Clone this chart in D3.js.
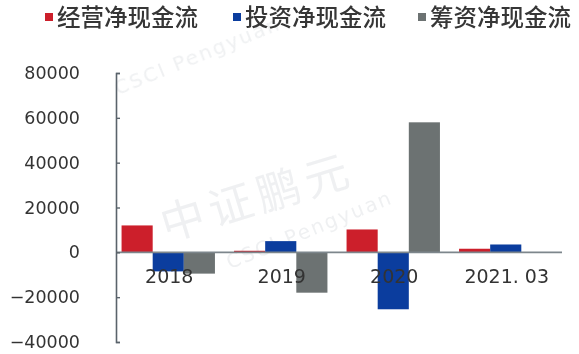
<!DOCTYPE html>
<html>
<head>
<meta charset="utf-8">
<script src="https://cdn.jsdelivr.net/npm/d3@7"></script>
<style>
  html, body { margin: 0; padding: 0; background: #ffffff; }
  svg { display: block; }
</style>
</head>
<body>
<svg id="chart" width="579" height="354"></svg>
<script>
// Cash flow components by period (unit: 万元)
const periods = ["2018", "2019", "2020", "2021. 03"];
const seriesNames = ["经营净现金流", "投资净现金流", "筹资净现金流"];
const operating = [12000, 700, 10200, 1600];
const investing = [-8500, 5000, -25400, 3500];
const financing = [-9500, -18000, 58000, 0];
const yTicks = [-40000, -20000, 0, 20000, 40000, 60000, 80000];
const colors = ["#cc1f2b", "#0b3d9e", "#6c7272"];

const seriesValues = [operating, investing, financing];
const rows = periods.map((p, i) => ({
  period: p,
  values: seriesNames.map((s, j) => ({ series: s, idx: j, value: seriesValues[j][i] }))
}));

const svg = d3.select("#chart");

// Faint background watermark
const wm = svg.append("g").attr("fill", "#c9ced3").attr("opacity", 0.3)
  .style("font-family", "'Noto Sans CJK SC', sans-serif");
wm.append("text").attr("transform", "translate(262,212) rotate(-17)")
  .attr("text-anchor", "middle").style("font-size", "44px").style("letter-spacing", "6px")
  .text("中证鹏元");
wm.append("text").attr("transform", "translate(312,236) rotate(-22)")
  .attr("text-anchor", "middle").style("font-size", "20px").style("font-family", "'DejaVu Sans', sans-serif")
  .style("letter-spacing", "2px").text("CSCI Pengyuan");
wm.append("text").attr("transform", "translate(200,62) rotate(-22)")
  .attr("text-anchor", "middle").style("font-size", "20px").style("font-family", "'DejaVu Sans', sans-serif")
  .style("letter-spacing", "2px").text("CSCI Pengyuan");

const x0 = d3.scaleBand().domain(periods).range([112, 562]).paddingInner(0.17).paddingOuter(0.085);
const x1 = d3.scaleBand().domain(seriesNames).range([0, x0.bandwidth()]);
const y = d3.scaleLinear().domain([-40000, 80000]).range([342, 73]);

// Bars
const groups = svg.append("g").selectAll("g").data(rows).join("g")
  .attr("transform", d => `translate(${x0(d.period)},0)`);
groups.selectAll("rect").data(d => d.values).join("rect")
  .attr("x", d => x1(d.series))
  .attr("width", x1.bandwidth())
  .attr("y", d => y(Math.max(0, d.value)))
  .attr("height", d => Math.abs(y(d.value) - y(0)))
  .attr("fill", d => colors[d.idx]);

// Zero baseline
svg.append("line")
  .attr("x1", 116).attr("x2", 562)
  .attr("y1", y(0)).attr("y2", y(0))
  .attr("stroke", "#7d868c").attr("stroke-width", 1.6);

// Y axis with inward ticks
const yAxis = d3.axisLeft(y).tickValues(yTicks).tickSize(-4).tickSizeOuter(-4)
  .tickPadding(36).tickFormat(d3.format("d"));
const yg = svg.append("g").attr("transform", "translate(116,0)").call(yAxis);
yg.select(".domain").attr("stroke", "#5a636b").attr("stroke-width", 1.6);
yg.selectAll(".tick line").attr("stroke", "#5a636b").attr("stroke-width", 1.4);
yg.selectAll(".tick text")
  .attr("fill", "#333333")
  .style("font-family", "'DejaVu Sans', sans-serif")
  .style("font-size", "17.5px");

// Category labels just under the baseline
svg.append("g").selectAll("text").data(periods).join("text")
  .attr("x", d => x0(d) + x0.bandwidth() / 2 + 1)
  .attr("y", 283)
  .attr("text-anchor", "middle")
  .attr("fill", "#333333")
  .style("font-family", "'DejaVu Sans', sans-serif")
  .style("font-size", "19px")
  .text(d => d);

// Legend
const legendX = [45, 233, 418];
const lg = svg.append("g").selectAll("g").data(seriesNames).join("g")
  .attr("transform", (d, i) => `translate(${legendX[i]},0)`);
lg.append("rect").attr("x", 0).attr("y", 13).attr("width", 8).attr("height", 8)
  .attr("fill", (d, i) => colors[i]);
lg.append("text").attr("x", 12).attr("y", 26)
  .attr("fill", "#363636")
  .style("font-family", "'Noto Sans CJK SC', sans-serif")
  .style("font-size", "23.5px")
  .style("font-weight", 500)
  .text(d => d);
</script>
</body>
</html>
